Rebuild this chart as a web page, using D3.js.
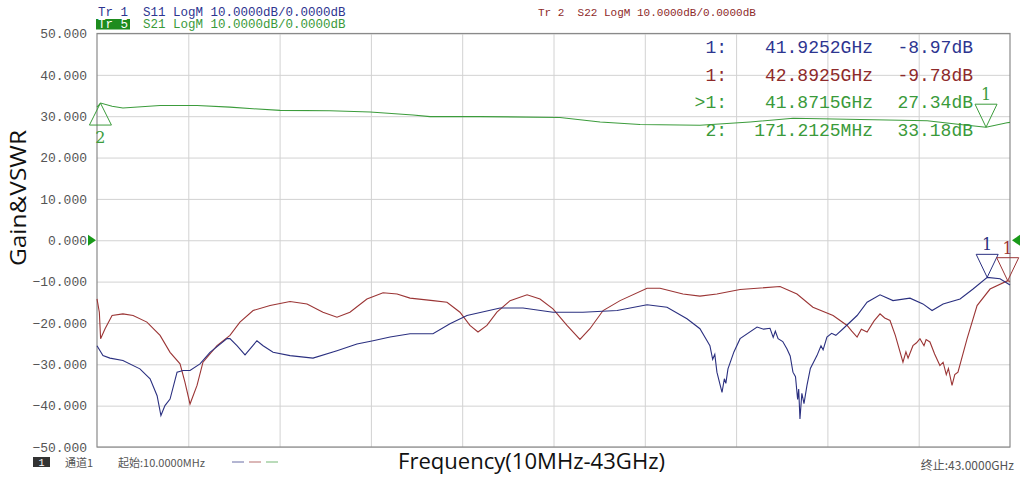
<!DOCTYPE html>
<html>
<head>
<meta charset="utf-8">
<script src="https://cdn.jsdelivr.net/npm/d3@7"></script>
<style>
  body { margin: 0; background: #fff; }
  svg { display: block; }
</style>
</head>
<body>
<div id="canvas"></div>
<script>
// S21 (gain), GHz / dB
var s21Freq = [0.01, 0.18, 0.72, 1.23, 2.98, 4.72, 6.27, 7.36, 8.63, 10.98, 12.87, 14.89, 15.69, 18.05, 21.81, 23.70, 25.58, 28.40, 30.76, 32.79, 35.94, 39.10, 40.65, 41.87, 42.86, 43.0];
var s21Db   = [32.2, 33.18, 32.4, 32.0, 32.6, 32.6, 32.2, 31.8, 31.4, 31.3, 31.0, 30.3, 29.9, 29.9, 29.7, 28.6, 28.0, 27.8, 28.6, 29.5, 29.2, 28.9, 28.0, 27.34, 28.4, 28.5];

// S11
var s11Freq = [0.01, 0.29, 0.62, 1.23, 2.03, 2.51, 2.84, 3.02, 3.21, 3.45, 3.78, 4.06, 4.39, 4.86, 5.33, 6.13, 6.27, 6.60, 6.98, 7.54, 7.83, 8.30, 9.10, 10.18, 11.31, 12.25, 13.01, 13.81, 14.75, 15.83, 16.63, 17.43, 18.99, 20.07, 21.48, 22.89, 24.50, 25.91, 26.85, 27.79, 28.40, 28.70, 28.87, 29.00, 29.10, 29.20, 29.35, 29.44, 29.55, 29.62, 29.72, 30.00, 30.29, 31.09, 31.40, 31.70, 31.85, 31.95, 32.08, 32.30, 32.50, 32.65, 32.78, 32.90, 33.00, 33.05, 33.11, 33.20, 33.30, 33.44, 33.60, 33.91, 34.10, 34.20, 34.38, 34.60, 34.80, 35.14, 35.80, 36.27, 36.88, 37.49, 38.29, 38.90, 39.33, 39.85, 40.65, 41.26, 41.93, 42.53, 43.0];
var s11Db   = [-25.5, -27.9, -28.5, -29.1, -31.1, -33.5, -37.6, -42.4, -40.0, -38.4, -31.9, -31.5, -31.5, -29.9, -27.1, -23.8, -23.8, -25.5, -27.7, -24.3, -25.5, -27.1, -27.9, -28.5, -26.7, -25.1, -24.3, -23.4, -22.6, -22.6, -20.2, -18.2, -16.4, -16.4, -17.4, -17.4, -17.0, -15.6, -16.2, -19.0, -21.4, -24.0, -25.5, -28.8, -27.6, -31.9, -35.0, -36.8, -33.5, -34.6, -31.1, -27.0, -23.8, -21.0, -21.5, -21.3, -23.5, -22.0, -23.8, -24.5, -26.3, -28.0, -31.9, -33.0, -38.5, -36.0, -43.2, -37.0, -39.5, -35.1, -31.0, -27.9, -25.5, -26.5, -23.4, -22.5, -23.0, -21.4, -18.2, -15.0, -13.2, -14.6, -14.0, -15.4, -17.0, -15.4, -14.2, -11.8, -8.97, -9.3, -10.8];

// S22
var s22Freq = [0.01, 0.12, 0.18, 0.39, 0.72, 1.23, 1.71, 2.36, 2.98, 3.45, 3.92, 4.15, 4.39, 4.72, 5.00, 5.66, 6.27, 6.74, 7.36, 8.16, 9.10, 9.90, 10.65, 11.31, 11.92, 12.72, 13.48, 14.14, 14.75, 15.83, 16.49, 17.10, 17.57, 17.95, 18.37, 18.84, 19.46, 20.26, 20.87, 21.48, 22.14, 22.75, 23.22, 23.84, 24.64, 25.91, 26.52, 27.60, 28.40, 29.20, 30.29, 32.17, 32.97, 33.72, 34.67, 35.33, 35.55, 35.80, 36.00, 36.27, 36.60, 36.88, 37.10, 37.35, 37.60, 37.96, 38.10, 38.20, 38.43, 38.60, 38.76, 38.95, 39.05, 39.23, 39.45, 39.70, 39.85, 40.00, 40.10, 40.27, 40.40, 40.55, 40.98, 41.45, 42.06, 42.89, 43.0];
var s22Db   = [-14.2, -17.4, -23.8, -21.4, -18.2, -17.8, -18.2, -19.8, -23.0, -27.1, -29.9, -34.3, -39.6, -35.1, -29.5, -25.5, -23.0, -19.8, -17.0, -15.8, -14.8, -15.4, -17.4, -18.6, -17.4, -14.2, -12.7, -13.0, -14.0, -14.6, -15.0, -17.4, -20.6, -22.2, -20.6, -17.4, -14.6, -13.2, -14.2, -16.6, -20.6, -24.0, -21.4, -17.0, -14.6, -11.6, -11.6, -13.0, -13.5, -13.0, -11.9, -11.2, -13.0, -16.2, -18.2, -20.6, -22.0, -23.4, -21.5, -22.2, -19.5, -17.8, -18.8, -19.4, -23.0, -29.5, -27.0, -28.5, -25.5, -24.8, -23.8, -25.5, -24.0, -24.6, -27.5, -30.3, -29.5, -32.5, -31.0, -35.1, -32.5, -31.9, -23.8, -15.8, -11.8, -9.78, -10.0];

var yTicks = [50, 40, 30, 20, 10, 0, -10, -20, -30, -40, -50];

var markerRows = [
    { label: "1:", freq: "41.9252GHz", val: "-8.97dB", color: "#2d3590" },
    { label: "1:", freq: "42.8925GHz", val: "-9.78dB", color: "#8e2a2a" },
    { label: ">1:", freq: "41.8715GHz", val: "27.34dB", color: "#3a9a3a" },
    { label: "2:", freq: "171.2125MHz", val: "33.18dB", color: "#3a9a3a" }
];

var width = 1021, height = 486;
var plotLeft = 97, plotRight = 1010, plotTop = 33.5, plotBottom = 447;

var blue = "#2b3080", red = "#9b3535", green = "#3c9c3c";
var mono = "'Liberation Mono', 'DejaVu Sans Mono', monospace";

var svg = d3.select("#canvas").append("svg")
    .attr("width", width)
    .attr("height", height);

svg.append("rect").attr("width", width).attr("height", height).attr("fill", "#fff");

var x = d3.scaleLinear().domain([0.01, 43]).range([plotLeft, plotRight]);
var y = d3.scaleLinear().domain([-50, 50]).range([plotBottom, plotTop]);

// horizontal grid + labels
var yAxis = svg.append("g")
    .attr("transform", "translate(" + plotLeft + ",0)")
    .call(d3.axisLeft(y).tickValues(yTicks).tickSize(-(plotRight - plotLeft)).tickPadding(10)
        .tickFormat(d3.format(".3f")));
yAxis.select(".domain").remove();
yAxis.selectAll("line").attr("stroke", "#d2d2d2");
yAxis.selectAll("text")
    .attr("fill", "#555")
    .style("font-family", mono)
    .style("font-size", "13px");

// vertical grid
var xTicks = d3.range(1, 10).map(function (i) { return 0.01 + i * (43 - 0.01) / 10; });
var xAxis = svg.append("g")
    .attr("transform", "translate(0," + plotBottom + ")")
    .call(d3.axisBottom(x).tickValues(xTicks).tickSize(-(plotBottom - plotTop)).tickFormat(""));
xAxis.select(".domain").remove();
xAxis.selectAll("line").attr("stroke", "#d2d2d2");

// frame
svg.append("rect")
    .attr("x", plotLeft).attr("y", plotTop)
    .attr("width", plotRight - plotLeft).attr("height", plotBottom - plotTop)
    .attr("fill", "none").attr("stroke", "#8a8a8a").attr("stroke-width", 1.2);

// traces
function trace(freqs, vals, color) {
    var pts = freqs.map(function (f, i) { return [f, vals[i]]; });
    svg.append("path")
        .datum(pts)
        .attr("fill", "none")
        .attr("stroke", color)
        .attr("stroke-width", 1.1)
        .attr("d", d3.line().x(function (d) { return x(d[0]); }).y(function (d) { return y(d[1]); }));
}
trace(s22Freq, s22Db, red);
trace(s11Freq, s11Db, blue);
trace(s21Freq, s21Db, green);

// reference arrows at 0 dB
svg.append("path")
    .attr("d", "M" + (plotLeft - 9) + "," + (y(0) - 5.5) + "L" + (plotLeft - 1) + "," + y(0) + "L" + (plotLeft - 9) + "," + (y(0) + 5.5) + "Z")
    .attr("fill", "#1a9a1a");
svg.append("path")
    .attr("d", "M" + (plotRight + 10) + "," + (y(0) - 5.5) + "L" + (plotRight + 2) + "," + y(0) + "L" + (plotRight + 10) + "," + (y(0) + 5.5) + "Z")
    .attr("fill", "#1a9a1a");

// markers
function markerDown(f, v, color, label) {
    var px = x(f), py = y(v);
    svg.append("path")
        .attr("d", "M" + px + "," + py + "L" + (px - 11) + "," + (py - 23) + "L" + (px + 11) + "," + (py - 23) + "Z")
        .attr("fill", "none").attr("stroke", color).attr("stroke-width", 1);
    svg.append("text")
        .attr("x", px).attr("y", py - 27)
        .attr("text-anchor", "middle")
        .attr("fill", color)
        .style("font-family", "'DejaVu Serif', serif")
        .style("font-size", "16px")
        .text(label);
}
function markerUp(f, v, color, label) {
    var px = x(f), py = y(v);
    svg.append("path")
        .attr("d", "M" + px + "," + py + "L" + (px - 11) + "," + (py + 22) + "L" + (px + 11) + "," + (py + 22) + "Z")
        .attr("fill", "none").attr("stroke", color).attr("stroke-width", 1);
    svg.append("text")
        .attr("x", px).attr("y", py + 40)
        .attr("text-anchor", "middle")
        .attr("fill", color)
        .style("font-family", "'DejaVu Serif', serif")
        .style("font-size", "16px")
        .text(label);
}
markerDown(41.9252, -8.97, blue, "1");
markerDown(42.8925, -9.78, red, "1");
markerDown(41.8715, 27.34, green, "1");
markerUp(0.1712, 33.18, green, "2");

// marker readout
var rows = svg.append("g").selectAll("g").data(markerRows).enter().append("g")
    .attr("transform", function (d, i) { return "translate(0," + (53 + i * 27.7) + ")"; })
    .style("font-family", mono)
    .style("font-size", "18px")
    .attr("fill", function (d) { return d.color; });
rows.append("text").attr("x", 727).attr("text-anchor", "end").text(function (d) { return d.label; });
rows.append("text").attr("x", 873).attr("text-anchor", "end").text(function (d) { return d.freq; });
rows.append("text").attr("x", 973).attr("text-anchor", "end").text(function (d) { return d.val; });

// trace headers
svg.append("text").attr("x", 98).attr("y", 16)
    .attr("fill", "#2d3590").style("font-family", mono).style("font-size", "12.5px")
    .attr("xml:space", "preserve")
    .text("Tr 1  S11 LogM 10.0000dB/0.0000dB");
svg.append("rect").attr("x", 96).attr("y", 19).attr("width", 34).attr("height", 10.5).attr("fill", "#1e8c1e");
svg.append("text").attr("x", 98).attr("y", 28)
    .attr("fill", "#fff").style("font-family", mono).style("font-size", "12.5px")
    .text("Tr 5");
svg.append("text").attr("x", 143).attr("y", 28)
    .attr("fill", "#3a9a3a").style("font-family", mono).style("font-size", "12.5px")
    .text("S21 LogM 10.0000dB/0.0000dB");
svg.append("text").attr("x", 538).attr("y", 16)
    .attr("fill", "#8e2a2a").style("font-family", mono).style("font-size", "11px")
    .attr("xml:space", "preserve")
    .text("Tr 2  S22 LogM 10.0000dB/0.0000dB");

// footer
svg.append("rect").attr("x", 33).attr("y", 457).attr("width", 17).attr("height", 10).attr("fill", "#333");
svg.append("text").attr("x", 41.5).attr("y", 465.5).attr("text-anchor", "middle")
    .attr("fill", "#fff").style("font-family", mono).style("font-size", "10px").text("1");
svg.append("text").attr("x", 65).attr("y", 467)
    .attr("fill", "#555").style("font-family", "'Noto Sans CJK SC', sans-serif").style("font-size", "11px")
    .text("通道1");
svg.append("text").attr("x", 118).attr("y", 467)
    .attr("fill", "#555").style("font-family", "'Noto Sans CJK SC', sans-serif").style("font-size", "11px")
    .text("起始:10.0000MHz");
[blue, red, green].forEach(function (c, i) {
    svg.append("line")
        .attr("x1", 232 + i * 17).attr("x2", 244 + i * 17)
        .attr("y1", 462).attr("y2", 462)
        .attr("stroke", c).attr("stroke-width", 1).attr("opacity", 0.7);
});
svg.append("text").attr("x", 1014).attr("y", 470).attr("text-anchor", "end")
    .attr("fill", "#555").style("font-family", "'Noto Sans CJK SC', sans-serif").style("font-size", "12px")
    .text("终止:43.0000GHz");

svg.append("text").attr("x", 398).attr("y", 469)
    .attr("fill", "#111").style("font-family", "'Open Sans', sans-serif").style("font-size", "21px")
    .attr("textLength", 267).attr("lengthAdjust", "spacingAndGlyphs")
    .text("Frequency(10MHz-43GHz)");

svg.append("text")
    .attr("transform", "translate(26,198) rotate(-90)")
    .attr("text-anchor", "middle")
    .attr("fill", "#111").style("font-family", "'Open Sans', sans-serif").style("font-size", "21px")
    .attr("textLength", 136).attr("lengthAdjust", "spacingAndGlyphs")
    .text("Gain&VSWR");
</script>
</body>
</html>
